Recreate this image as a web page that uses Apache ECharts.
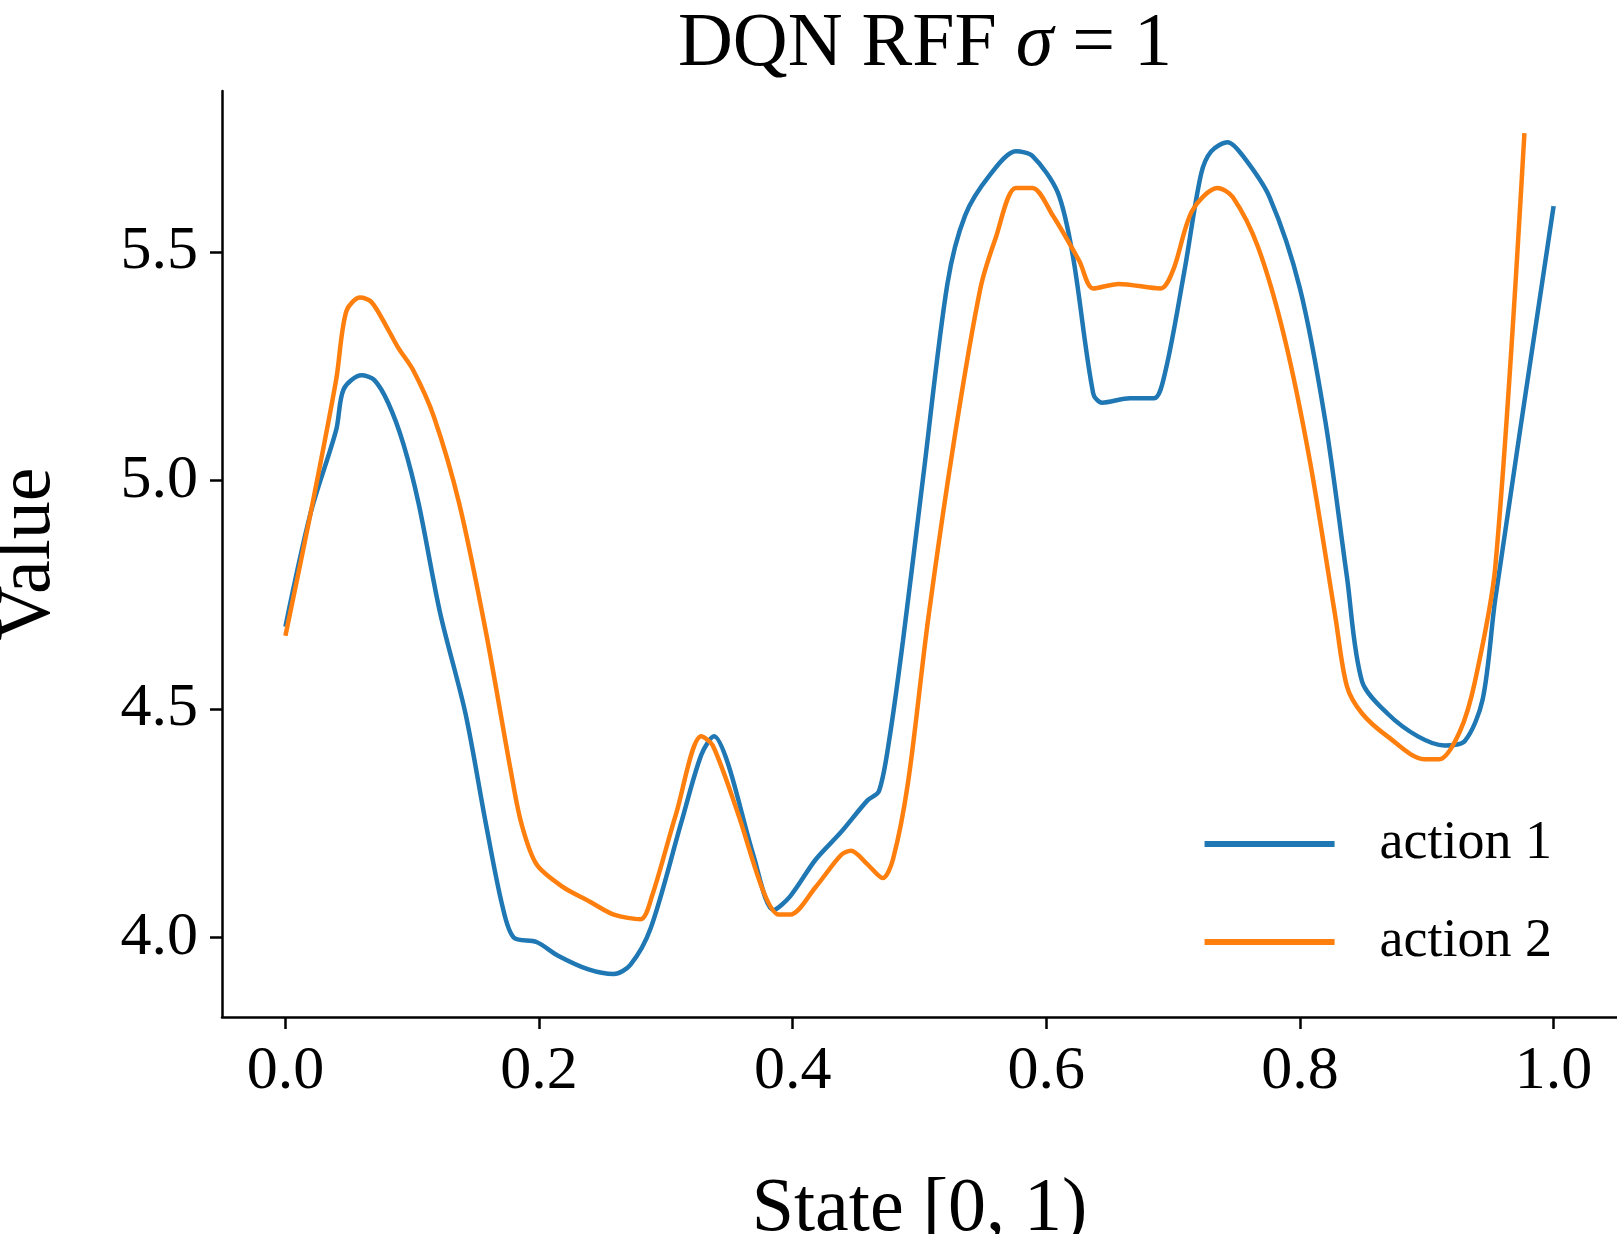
<!DOCTYPE html>
<html><head><meta charset="utf-8">
<script src="https://cdn.jsdelivr.net/npm/echarts@6/dist/echarts.min.js"></script>
<style>html,body{margin:0;background:#fff}#main{width:1617px;height:1234px}</style>
</head><body><div id="main"></div>
<script>
var xTicks = [0, 0.2, 0.4, 0.6, 0.8, 1.0];
var yTicks = [4.0, 4.5, 5.0, 5.5];

var action1 = [
  [0.0,4.68],[0.02,4.93],[0.04,5.11],[0.046,5.20],[0.060,5.23],[0.070,5.22],[0.081,5.17],[0.093,5.08],
  [0.105,4.95],[0.122,4.71],[0.142,4.49],[0.158,4.25],[0.171,4.07],[0.180,4.00],[0.198,3.99],
  [0.215,3.96],[0.239,3.93],[0.259,3.92],[0.272,3.94],[0.288,4.02],[0.312,4.25],[0.328,4.40],
  [0.338,4.44],[0.349,4.38],[0.369,4.18],[0.385,4.06],[0.398,4.09],[0.418,4.17],[0.438,4.23],
  [0.459,4.30],[0.468,4.32],[0.476,4.43],[0.487,4.65],[0.503,5.01],[0.522,5.43],[0.536,5.58],
  [0.556,5.67],[0.576,5.72],[0.589,5.71],[0.609,5.63],[0.621,5.49],[0.637,5.19],[0.644,5.17],
  [0.666,5.18],[0.685,5.18],[0.694,5.24],[0.709,5.46],[0.722,5.67],[0.730,5.72],[0.743,5.74],
  [0.755,5.71],[0.776,5.62],[0.800,5.42],[0.820,5.13],[0.837,4.79],[0.849,4.56],[0.869,4.49],
  [0.893,4.44],[0.914,4.42],[0.930,4.43],[0.944,4.52],[0.954,4.74],[1.0,5.60]
];
var action2 = [
  [0.0,4.66],[0.02,4.93],[0.04,5.22],[0.048,5.37],[0.059,5.40],[0.068,5.39],[0.081,5.33],
  [0.089,5.29],[0.101,5.24],[0.117,5.14],[0.137,4.95],[0.158,4.67],[0.178,4.36],[0.186,4.25],
  [0.198,4.16],[0.219,4.11],[0.239,4.08],[0.259,4.05],[0.280,4.04],[0.289,4.09],[0.308,4.27],
  [0.328,4.44],[0.337,4.42],[0.357,4.27],[0.377,4.10],[0.389,4.05],[0.398,4.05],[0.418,4.11],
  [0.438,4.18],[0.446,4.19],[0.459,4.16],[0.471,4.13],[0.479,4.17],[0.491,4.34],[0.507,4.70],
  [0.528,5.10],[0.548,5.42],[0.560,5.53],[0.576,5.64],[0.589,5.64],[0.605,5.58],[0.626,5.48],
  [0.637,5.42],[0.657,5.43],[0.690,5.42],[0.700,5.46],[0.715,5.59],[0.735,5.64],[0.747,5.62],
  [0.767,5.51],[0.788,5.31],[0.808,5.04],[0.828,4.70],[0.837,4.55],[0.849,4.49],[0.869,4.44],
  [0.898,4.39],[0.910,4.39],[0.926,4.45],[0.938,4.56],[0.954,4.81],[0.977,5.76]
];

var chart = echarts.init(document.getElementById('main'));
var font = "'Liberation Serif', 'DejaVu Serif', serif";
chart.setOption({
  animation: false,
  title: {
    text: 'DQN RFF {s|σ} = 1', left: 920, top: 2, textAlign: 'center',
    textStyle: { fontFamily: font, fontSize: 76, fontWeight: 'normal', color: '#000',
      rich: { s: { fontFamily: font, fontStyle: 'italic', fontSize: 76 } } }
  },
  grid: { left: 222, top: 91, right: 0, bottom: 217, outerBoundsMode: 'none' },
  legend: {
    right: 60, top: 812, orient: 'vertical', itemWidth: 130, itemHeight: 6, itemGap: 44,
    icon: 'rect',
    textStyle: { fontFamily: font, fontSize: 54, color: '#000', padding: [0, 0, 0, 40] },
    data: ['action 1', 'action 2']
  },
  xAxis: {
    type: 'value', min: -0.05, max: 1.05,
    name: 'State [0, 1)', nameLocation: 'middle', nameGap: 155,
    nameTextStyle: { fontFamily: font, fontSize: 76, color: '#000' },
    axisLine: { onZero: false, lineStyle: { color: '#000', width: 2.5 } },
    axisTick: { customValues: xTicks, length: 12, lineStyle: { color: '#000', width: 2.5 } },
    axisLabel: { customValues: xTicks, margin: 24, fontFamily: font, fontSize: 62, color: '#000',
      formatter: function (v) { return v.toFixed(1); } },
    splitLine: { show: false }
  },
  yAxis: {
    type: 'value', min: 3.826, max: 5.852,
    name: 'Value', nameLocation: 'middle', nameGap: 155,
    nameTextStyle: { fontFamily: font, fontSize: 76, color: '#000' },
    axisLine: { show: true, onZero: false, lineStyle: { color: '#000', width: 2.5 } },
    axisTick: { show: true, customValues: yTicks, length: 12, lineStyle: { color: '#000', width: 2.5 } },
    axisLabel: { customValues: yTicks, margin: 24, fontFamily: font, fontSize: 62, color: '#000',
      formatter: function (v) { return v.toFixed(1); } },
    splitLine: { show: false }
  },
  series: [
    { name: 'action 1', type: 'line', data: action1, smooth: 0.3, showSymbol: false,
      lineStyle: { color: '#1f77b4', width: 4.5 }, itemStyle: { color: '#1f77b4' } },
    { name: 'action 2', type: 'line', data: action2, smooth: 0.3, showSymbol: false,
      lineStyle: { color: '#ff7f0e', width: 4.5 }, itemStyle: { color: '#ff7f0e' } }
  ]
});
</script></body></html>
